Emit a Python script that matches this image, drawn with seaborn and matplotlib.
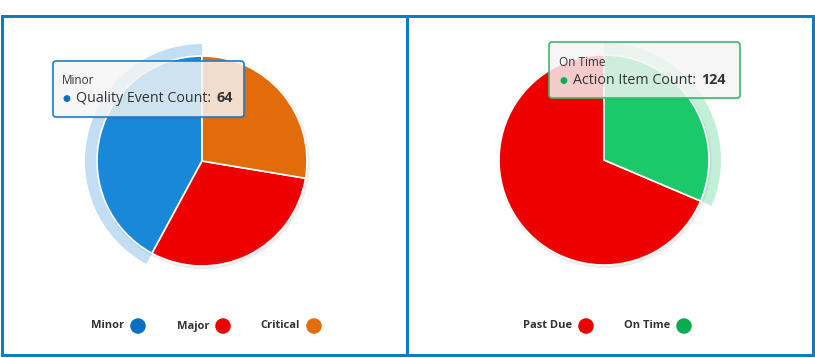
import numpy as np
import matplotlib
matplotlib.use("Agg")
import matplotlib.pyplot as plt
import seaborn as sns
from matplotlib.patches import Wedge, Circle, FancyBboxPatch

# ---- data ----
quality_categories = ["Minor", "Major", "Critical"]
quality_counts = [64, 46, 42]
quality_colors = ["#1a88d8", "#ee0000", "#e36c0a"]
quality_legend_colors = ["#0b6fc4", "#ee0000", "#e46c0a"]

action_categories = ["Past Due", "On Time"]
action_counts = [271, 124]
action_colors = ["#ee0000", "#1bc96b"]
action_legend_colors = ["#ee0000", "#09ad4f"]

quality_tooltip_title = "Minor"
quality_tooltip_label = "Quality Event Count:"
action_tooltip_title = "On Time"
action_tooltip_label = "Action Item Count:"

sns.set_theme(style="white")
plt.rcParams["font.family"] = ["Open Sans", "DejaVu Sans"]

W, H = 815, 358
fig = plt.figure(figsize=(W / 100, H / 100), dpi=100)
ax = fig.add_axes([0, 0, 1, 1])
ax.set_xlim(0, W)
ax.set_ylim(0, H)
ax.set_aspect("equal")
ax.axis("off")

def Y(py):
    return H - py

BORDER = "#0a7ec4"
TEXT = "#333333"


def draw_pie(values, colors, cx, cy, r, hover_idx):
    center = (cx, Y(cy))
    ax.add_patch(Circle((cx + 1, Y(cy) - 1.5), r + 1.5, color="#000000", alpha=0.08, lw=0, zorder=1))
    total = float(sum(values))
    t1 = 90.0 + 360 * sum(values[:hover_idx]) / total
    t2 = t1 + 360 * values[hover_idx] / total
    ax.add_patch(Wedge(center, r + 12, t1, t2, width=12, color=colors[hover_idx],
                       alpha=0.27, lw=0, zorder=1.5))
    wedges, _ = ax.pie(values, colors=colors, center=center, radius=r,
                       startangle=90, counterclock=True, frame=True,
                       wedgeprops=dict(edgecolor="white", linewidth=1.2))
    for w in wedges:
        w.set_zorder(2)


draw_pie(quality_counts, quality_colors, 202, 161, 105, 0)
draw_pie(action_counts, action_colors, 604, 160, 105, 1)

ax.set_xlim(0, W)
ax.set_ylim(0, H)
ax.axis("off")


def draw_legend(cats, cols, dot_xs, py):
    ax.scatter(dot_xs, [Y(py)] * len(dot_xs), s=125, c=cols, linewidths=0, zorder=5)
    for c, x in zip(cats, dot_xs):
        ax.text(x - 14, Y(py), c, ha="right", va="center", fontsize=8,
                fontweight="bold", color=TEXT, zorder=5)


draw_legend(quality_categories, quality_legend_colors, [138, 223, 314], 326)
draw_legend(action_categories, action_legend_colors, [586, 684], 326)


def draw_tooltip(x0, y0, x1, y1, border, title, label, value, dot_color, tx, ty1, ty2):
    ax.add_patch(FancyBboxPatch((x0 + 1.5, Y(y1) - 1.5), x1 - x0, y1 - y0,
                                boxstyle="round,pad=0,rounding_size=3",
                                fc="#000000", ec="none", alpha=0.08, zorder=6))
    ax.add_patch(FancyBboxPatch((x0, Y(y1)), x1 - x0, y1 - y0,
                                boxstyle="round,pad=0,rounding_size=3",
                                fc="#f9f9f9", ec="none", alpha=0.82, zorder=7))
    ax.add_patch(FancyBboxPatch((x0, Y(y1)), x1 - x0, y1 - y0,
                                boxstyle="round,pad=0,rounding_size=3",
                                fc="none", ec=border, lw=1.2, zorder=7))
    ax.text(tx, Y(ty1), title, ha="left", va="center", fontsize=8.5, color=TEXT, zorder=8)
    ax.text(tx + 4, Y(ty2), "\u25CF", ha="center", va="center", fontsize=6.5,
            color=dot_color, zorder=8, family="DejaVu Sans")
    t = ax.text(tx + 14, Y(ty2), label, ha="left", va="center", fontsize=10.3,
                color=TEXT, zorder=8)
    ax.annotate(str(value), xy=(1, 0.5), xycoords=t, xytext=(4, 0),
                textcoords="offset points", ha="left", va="center",
                fontsize=10.3, fontweight="bold", color=TEXT, zorder=8)


draw_tooltip(53, 61, 244, 117, "#1a7fd0", quality_tooltip_title, quality_tooltip_label,
             quality_counts[0], quality_legend_colors[0], 62, 81, 98)
draw_tooltip(549, 42, 740, 98, "#3dba6d", action_tooltip_title, action_tooltip_label,
             action_counts[1], action_legend_colors[1], 559, 62, 80)

lw = 3 * 72 / 100
ax.plot([1.5, 812.5, 812.5, 1.5, 1.5], [Y(16), Y(16), Y(355), Y(355), Y(16)],
        color=BORDER, lw=lw, solid_joinstyle="miter", zorder=10)
ax.plot([407, 407], [Y(16), Y(355)], color=BORDER, lw=lw, zorder=10)

fig.savefig("out.png", dpi=100)
